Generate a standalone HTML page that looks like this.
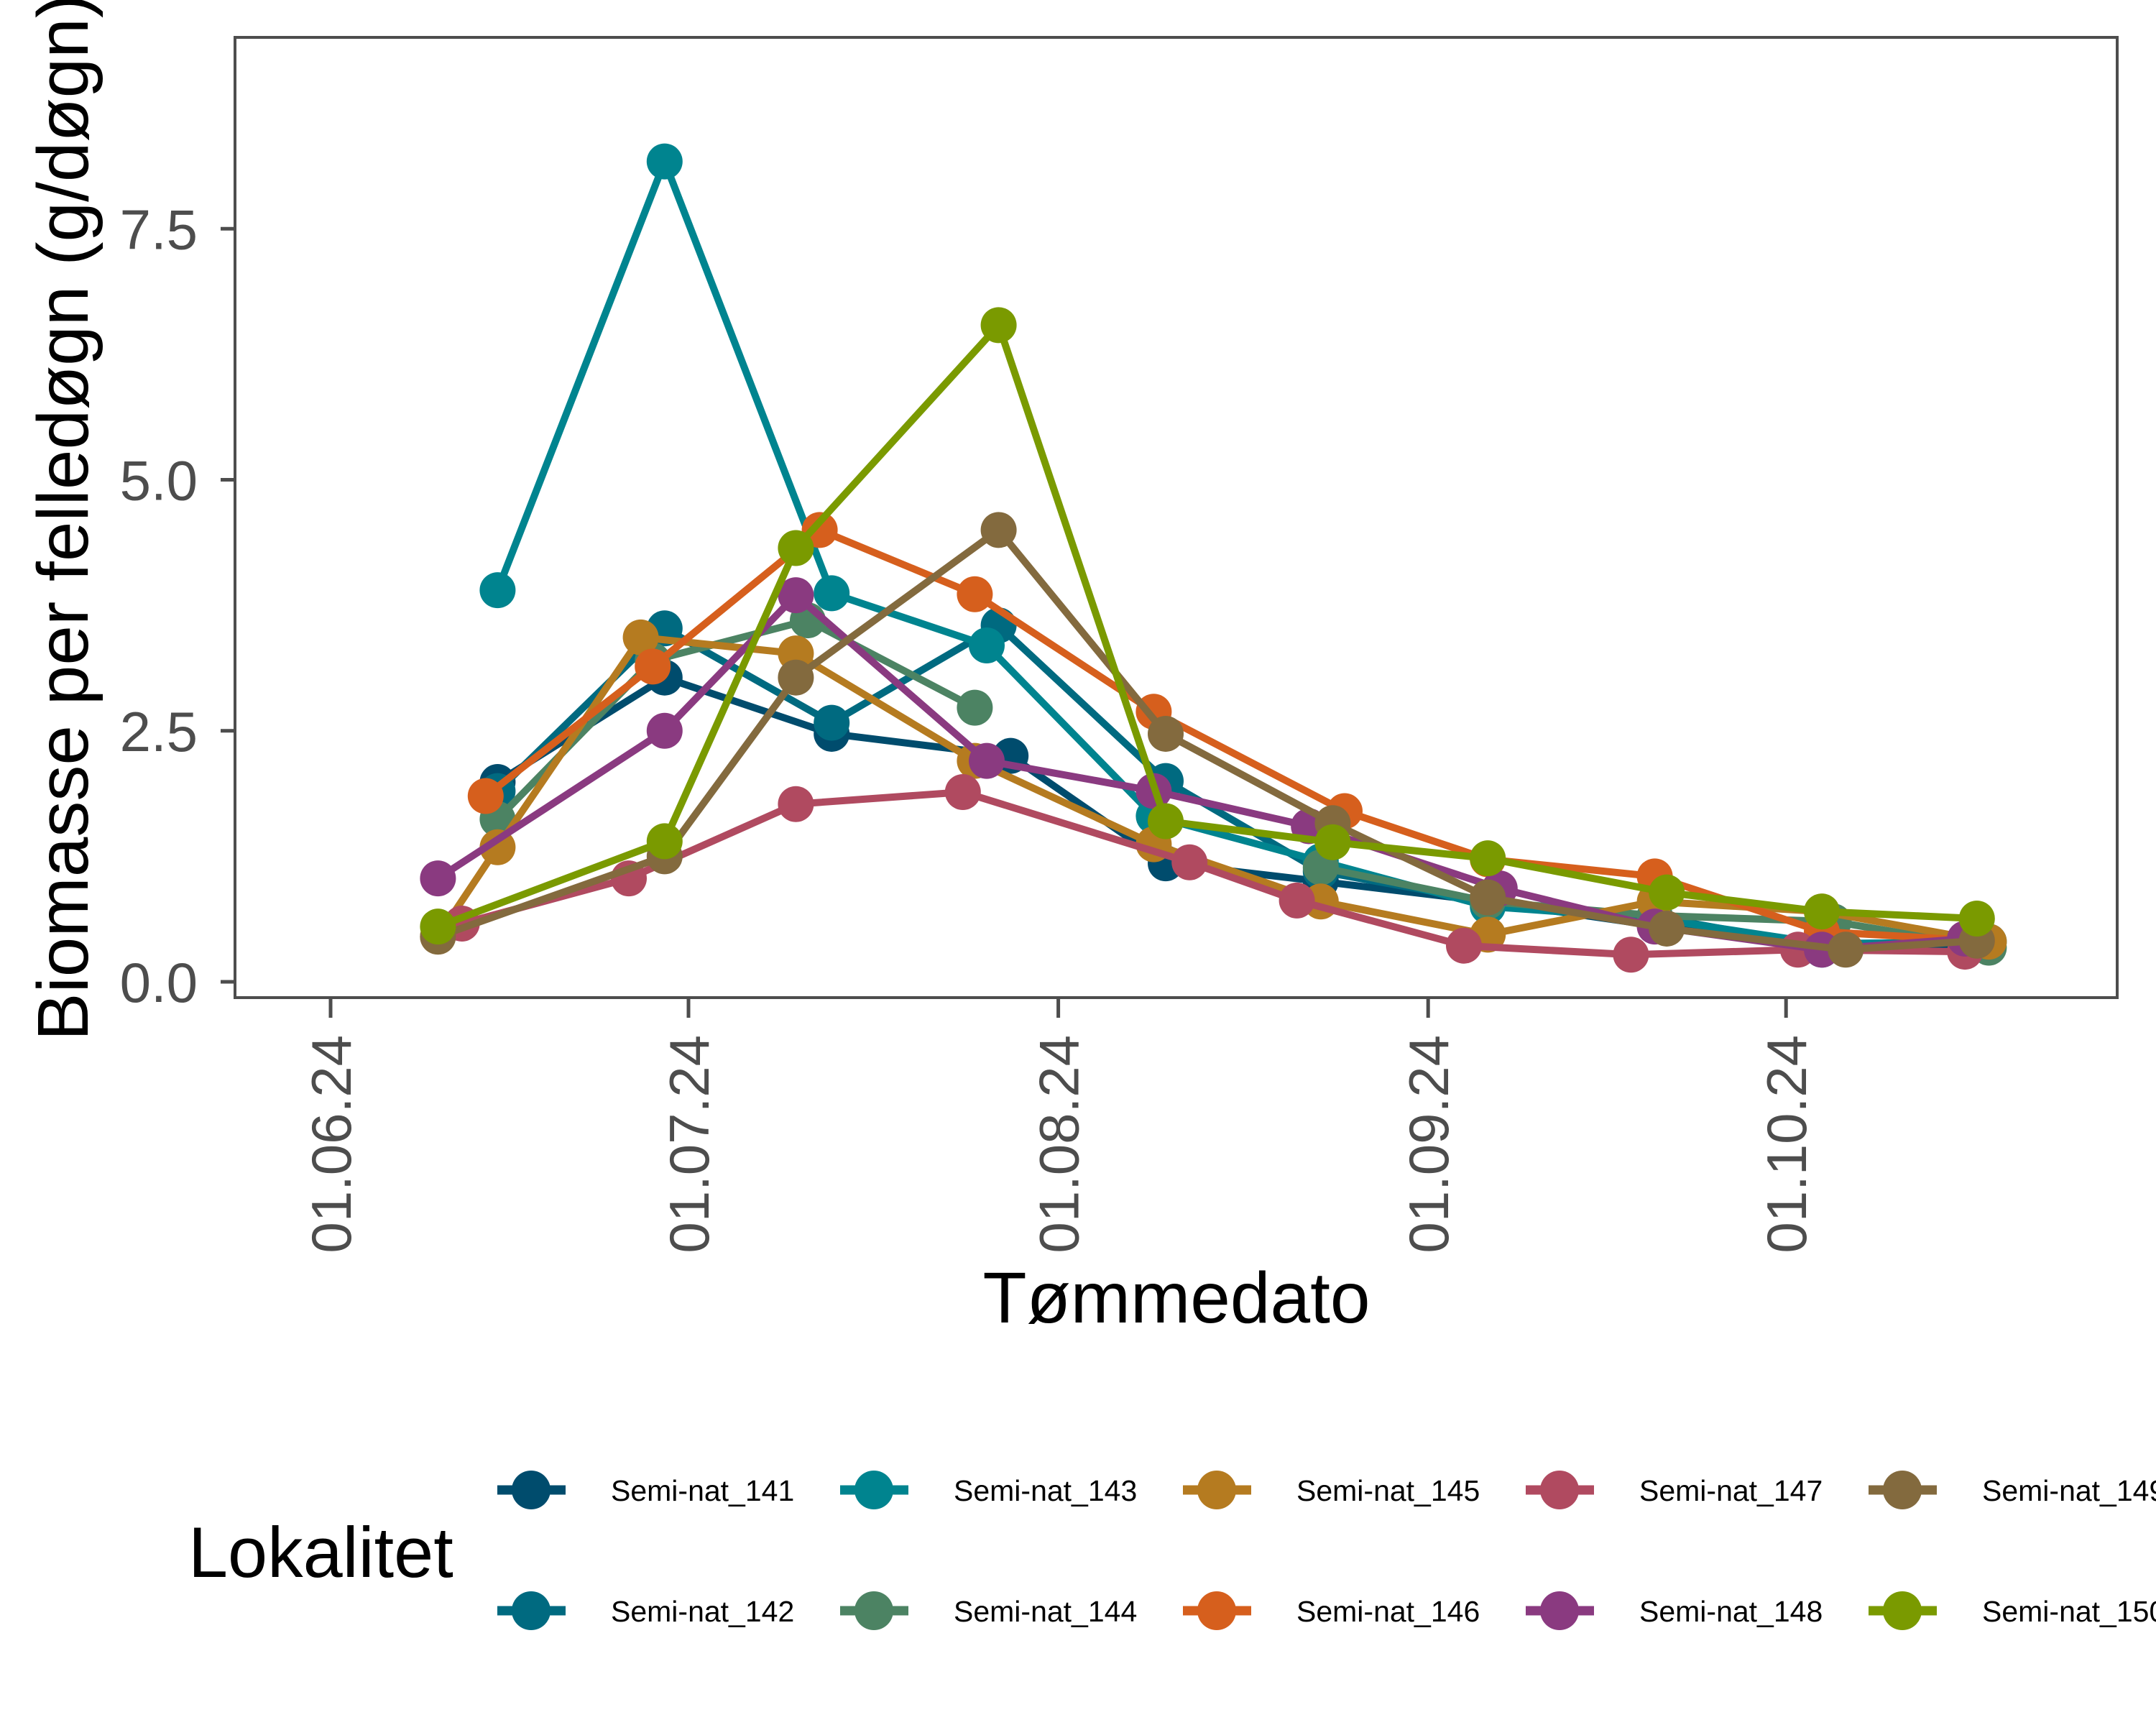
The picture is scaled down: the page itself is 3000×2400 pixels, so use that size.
<!DOCTYPE html>
<html><head><meta charset="utf-8"><style>
html,body{margin:0;padding:0;background:#fff}
svg{display:block;font-family:"Liberation Sans",Arial,sans-serif}
</style></head><body>
<svg id="chart" width="3000" height="2400" viewBox="0 0 3000 2400" xmlns="http://www.w3.org/2000/svg">
<rect x="0" y="0" width="3000" height="2400" fill="#fff"/>
<g id="marks"></g>
<g id="axes"></g>
<g id="legend"></g>
</svg>
<script>
const seriesNames = ["Semi-nat_141","Semi-nat_142","Semi-nat_143","Semi-nat_144","Semi-nat_145","Semi-nat_146","Semi-nat_147","Semi-nat_148","Semi-nat_149","Semi-nat_150"];
const seriesColors = ["#004c6d","#006a80","#00848f","#4c8363","#b57b20","#d65f1d","#b04a60","#8a3a80","#836a3e","#7a9a00"];
// days since 01.06.24
const days141 = [14,28,42,57,70,83,97,111,125,138];
const vals141 = [1.99,3.03,2.47,2.25,1.18,1.0,0.8,0.56,0.32,0.38];
const days142 = [14,28,42,56,70,83,97,111,125,138];
const vals142 = [1.9,3.52,2.58,3.55,2.0,1.1,0.8,0.65,0.35,0.4];
const days143 = [14,28,42,55,69,83,97,111,125,139];
const vals143 = [3.9,8.17,3.87,3.35,1.65,1.2,0.75,0.63,0.38,0.4];
const days144 = [14,27,40,54];
const vals144 = [1.62,3.2,3.6,2.73];
const days144b = [83,97,111,126,139];
const vals144b = [1.14,0.8,0.66,0.6,0.34];
const days145 = [9,14,26,39,54,69,83,97,111,125,139];
const vals145 = [0.45,1.34,3.43,3.27,2.2,1.37,0.8,0.47,0.8,0.7,0.4];
const days146 = [13,27,41,54,69,85,97,111,125,138];
const vals146 = [1.85,3.14,4.5,3.86,2.69,1.7,1.22,1.05,0.5,0.41];
const days147 = [11,25,39,53,72,81,95,109,123,137];
const vals147 = [0.58,1.03,1.77,1.89,1.19,0.81,0.36,0.27,0.32,0.3];
const days148 = [9,28,39,55,69,82,98,111,125,137];
const vals148 = [1.03,2.5,3.85,2.2,1.9,1.55,0.93,0.55,0.32,0.43];
const days149 = [9,28,39,56,70,84,97,112,127,138];
const vals149 = [0.45,1.25,3.03,4.5,2.47,1.58,0.84,0.53,0.32,0.41];
const days150 = [9,28,39,56,70,84,97,112,125,138];
const vals150 = [0.55,1.4,4.32,6.54,1.6,1.39,1.23,0.89,0.7,0.63];
const yTicks = [0,2.5,5,7.5];
const yTickLabels = ["0.0","2.5","5.0","7.5"];
const xTickDays = [0,30,61,92,122];
const xTickLabels = ["01.06.24","01.07.24","01.08.24","01.09.24","01.10.24"];

const NS="http://www.w3.org/2000/svg";
const P={l:327,t:52,r:2946,b:1388};
const xs=d=>460+d*16.6;
const ys=v=>1366-v*139.7;
function mk(tag,attrs,parent){const e=document.createElementNS(NS,tag);for(const k in attrs)e.setAttribute(k,attrs[k]);parent.appendChild(e);return e;}
const marks=document.getElementById('marks'),axes=document.getElementById('axes'),legend=document.getElementById('legend');

const allDays=[days141,days142,days143,days144,days145,days146,days147,days148,days149,days150];
const allVals=[vals141,vals142,vals143,vals144,vals145,vals146,vals147,vals148,vals149,vals150];
function drawSeries(days,vals,i,suffix){
  const g=mk('g',{},marks);
  
  
  const pl=mk('polyline',{points:days.map((d,j)=>xs(d)+','+ys(vals[j])).join(' '),fill:'none',stroke:seriesColors[i],'stroke-width':10,'stroke-linejoin':'round'},g);
  
  
  days.forEach((d,j)=>{const c=mk('circle',{cx:xs(d),cy:ys(vals[j]),r:25,fill:seriesColors[i]},g);
    
    });
}
for(let i=0;i<10;i++){drawSeries(allDays[i],allVals[i],i,'');if(i===3)drawSeries(days144b,vals144b,3,'-late');}

const panel=mk('rect',{x:P.l,y:P.t,width:P.r-P.l,height:P.b-P.t,fill:'none',stroke:'#4d4d4d','stroke-width':4},axes);


yTicks.forEach((v,i)=>{
  const t=mk('line',{x1:P.l-20,x2:P.l,y1:ys(v),y2:ys(v),stroke:'#4d4d4d','stroke-width':5},axes);
  
  
  const tx=mk('text',{x:275,y:ys(v)+28,'text-anchor':'end','font-size':78,fill:'#4d4d4d'},axes);
  tx.textContent=yTickLabels[i];
  
  
});
xTickDays.forEach((d,i)=>{
  const t=mk('line',{x1:xs(d),x2:xs(d),y1:P.b,y2:P.b+28,stroke:'#4d4d4d','stroke-width':5},axes);
  
  
  const tx=mk('text',{x:0,y:0,'text-anchor':'end','font-size':78,fill:'#4d4d4d',transform:`translate(${xs(d)+28},1440) rotate(-90)`},axes);
  tx.textContent=xTickLabels[i];
  
  
});
const xt=mk('text',{x:1637,y:1840,'text-anchor':'middle','font-size':100,fill:'#000'},axes);
xt.textContent='Tømmedato';


const yt=mk('text',{x:0,y:0,'text-anchor':'middle','font-size':100,fill:'#000',transform:'translate(122,720) rotate(-90)'},axes);
yt.textContent='Biomasse per felledøgn (g/døgn)';



const lt=mk('text',{x:262,y:2194,'font-size':99,fill:'#000'},legend);
lt.textContent='Lokalitet';


const colX=[739,1216,1693,2170,2647],rowY=[2073,2241];
seriesNames.forEach((n,i)=>{
  const cx=colX[Math.floor(i/2)],cy=rowY[i%2];
  const g=mk('g',{},legend);
  
  
  mk('line',{x1:cx-47,x2:cx+48,y1:cy,y2:cy,stroke:seriesColors[i],'stroke-width':13},g);
  mk('circle',{cx:cx,cy:cy,r:27,fill:seriesColors[i]},g);
  const t=mk('text',{x:cx+111,y:cy+15,'font-size':41,fill:'#000'},g);
  t.textContent=n;
});
</script>
</body></html>
